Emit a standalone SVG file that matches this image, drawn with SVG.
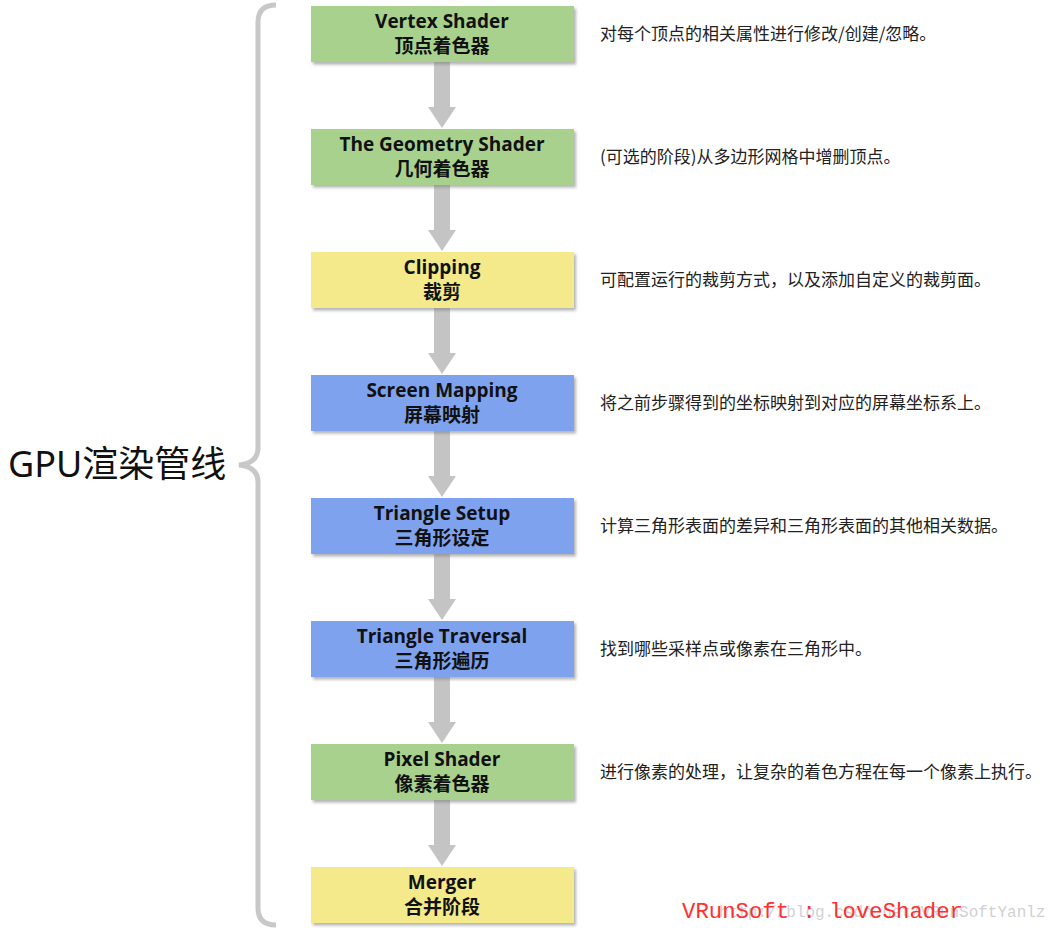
<svg xmlns="http://www.w3.org/2000/svg" width="1057" height="931" viewBox="0 0 1057 931">
<defs>
<style>
.box{stroke:none;filter:url(#sh)}
.g{fill:#a9d18e}
.y{fill:#f4e98b}
.b{fill:#7ea2ee}
.lbl{font-family:"Open Sans","Noto Sans CJK SC",sans-serif;font-weight:bold;font-size:19px;fill:#111;text-anchor:middle}
.desc{font-family:"Noto Sans CJK SC","Noto Sans",sans-serif;font-size:17px;fill:#222}
.arr{fill:#c4c4c4}
</style>
<filter id="sh" x="-5%" y="-10%" width="115%" height="130%">
<feDropShadow dx="2" dy="2.5" stdDeviation="1.5" flood-color="#808080" flood-opacity="0.6"/>
</filter>
</defs>
<rect width="1057" height="931" fill="#fff"/>

<g id="brace">
<path d="M276,5 Q258,5 258,22 L258,448 Q258,463 239,465 Q258,467 258,482 L258,908 Q258,925 276,925" fill="none" stroke="#c8c8c8" stroke-width="5"/>
</g>
<g id="title">
<text x="8" y="477" font-family="'Noto Sans','Noto Sans CJK SC',sans-serif" font-size="36" fill="#111">GPU渲染管线</text>
</g>

<g id="connectors">
<rect class="arr" x="434" y="62" width="16" height="45"/><polygon class="arr" points="428,107 456,107 442,128"/>
<rect class="arr" x="434" y="185" width="16" height="45"/><polygon class="arr" points="428,230 456,230 442,251"/>
<rect class="arr" x="434" y="308" width="16" height="45"/><polygon class="arr" points="428,353 456,353 442,374"/>
<rect class="arr" x="434" y="431" width="16" height="45"/><polygon class="arr" points="428,476 456,476 442,497"/>
<rect class="arr" x="434" y="554" width="16" height="45"/><polygon class="arr" points="428,599 456,599 442,620"/>
<rect class="arr" x="434" y="677" width="16" height="45"/><polygon class="arr" points="428,722 456,722 442,743"/>
<rect class="arr" x="434" y="800" width="16" height="45"/><polygon class="arr" points="428,845 456,845 442,866"/>
</g>

<g id="vertex-shader">
<rect class="box g" x="311" y="6" width="263" height="56"/>
<text class="lbl" x="442" y="28">Vertex Shader</text>
<text class="lbl" x="442" y="53">顶点着色器</text>
<text class="desc" x="600" y="39.5">对每个顶点的相关属性进行修改/创建/忽略。</text>
</g>
<g id="geometry-shader">
<rect class="box g" x="311" y="129" width="263" height="56"/>
<text class="lbl" x="442" y="151">The Geometry Shader</text>
<text class="lbl" x="442" y="176">几何着色器</text>
<text class="desc" x="600" y="162.5">(可选的阶段)从多边形网格中增删顶点。</text>
</g>
<g id="clipping">
<rect class="box y" x="311" y="252" width="263" height="56"/>
<text class="lbl" x="442" y="274">Clipping</text>
<text class="lbl" x="442" y="299">裁剪</text>
<text class="desc" x="600" y="285.5">可配置运行的裁剪方式，以及添加自定义的裁剪面。</text>
</g>
<g id="screen-mapping">
<rect class="box b" x="311" y="375" width="263" height="56"/>
<text class="lbl" x="442" y="397">Screen Mapping</text>
<text class="lbl" x="442" y="422">屏幕映射</text>
<text class="desc" x="600" y="408.5">将之前步骤得到的坐标映射到对应的屏幕坐标系上。</text>
</g>
<g id="triangle-setup">
<rect class="box b" x="311" y="498" width="263" height="56"/>
<text class="lbl" x="442" y="520">Triangle Setup</text>
<text class="lbl" x="442" y="545">三角形设定</text>
<text class="desc" x="600" y="531.5">计算三角形表面的差异和三角形表面的其他相关数据。</text>
</g>
<g id="triangle-traversal">
<rect class="box b" x="311" y="621" width="263" height="56"/>
<text class="lbl" x="442" y="643">Triangle Traversal</text>
<text class="lbl" x="442" y="668">三角形遍历</text>
<text class="desc" x="600" y="654.5">找到哪些采样点或像素在三角形中。</text>
</g>
<g id="pixel-shader">
<rect class="box g" x="311" y="744" width="263" height="56"/>
<text class="lbl" x="442" y="766">Pixel Shader</text>
<text class="lbl" x="442" y="791">像素着色器</text>
<text class="desc" x="600" y="777.5">进行像素的处理，让复杂的着色方程在每一个像素上执行。</text>
</g>
<g id="merger">
<rect class="box y" x="311" y="867" width="263" height="56"/>
<text class="lbl" x="442" y="889">Merger</text>
<text class="lbl" x="442" y="914">合并阶段</text>
</g>

<g id="watermark">
<text x="719" y="917" font-family="'Liberation Mono',monospace" font-size="16" fill="#c4c4c4" fill-opacity="0.8">http://blog.csdn.net/VRunSoftYanlz</text>
<text x="682" y="918" font-family="'Liberation Mono',monospace" font-size="22.3" fill="#ff3030">VRunSoft : loveShader</text>
</g>
</svg>
